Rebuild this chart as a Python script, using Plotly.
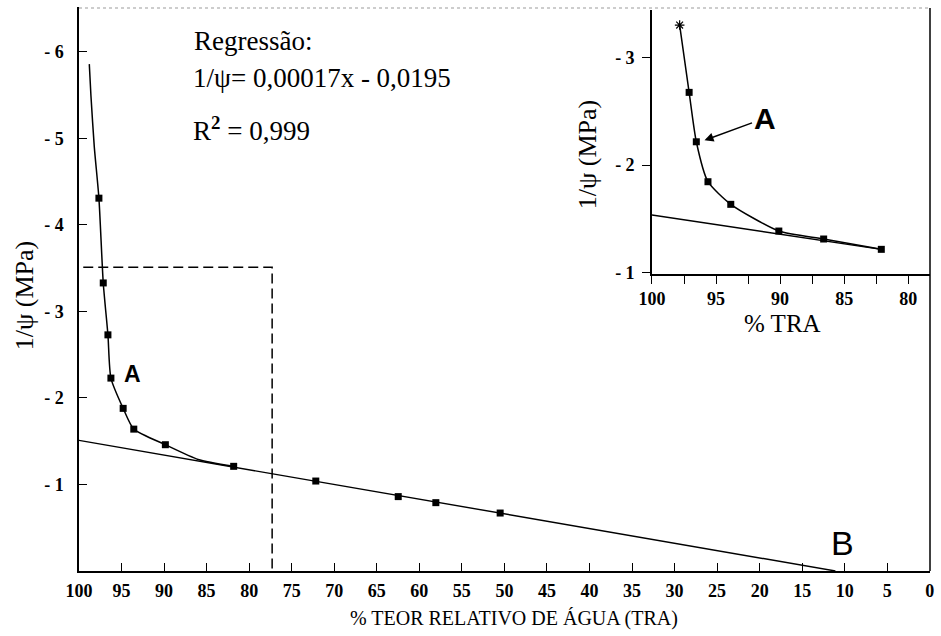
import plotly.graph_objects as go

# ---------------- data ----------------
# main chart: curve (hand-drawn fit through the measurements)
curve_tra = [98.79, 98.6, 98.2, 97.66, 97.15, 96.6, 96.25, 94.81, 93.56, 89.85, 86.0, 81.82]
curve_psi = [5.86, 5.5, 4.9, 4.31, 3.33, 2.73, 2.23, 1.88, 1.64, 1.46, 1.29, 1.21]
# main chart: measured points
pts_tra = [97.66, 97.15, 96.6, 96.25, 94.81, 93.56, 89.85, 81.82, 72.17, 62.48, 58.06, 50.5]
pts_psi = [4.31, 3.33, 2.73, 2.23, 1.88, 1.64, 1.46, 1.21, 1.04, 0.86, 0.79, 0.67]
# regression line (linear part)
reg_tra = [100, 11.1]
reg_psi = [1.51, 0.0]
# dashed zoom box
box_tra = [99.5, 77.3, 77.3]
box_psi = [3.51, 3.51, 0.0]

# inset
in_curve_tra = [97.84, 97.1, 96.54, 95.63, 93.85, 90.1, 86.6, 82.1]
in_curve_psi = [3.30, 2.675, 2.216, 1.845, 1.635, 1.387, 1.313, 1.217]
in_pts_tra = [97.1, 96.54, 95.63, 93.85, 90.1, 86.6, 82.1]
in_pts_psi = [2.675, 2.216, 1.845, 1.635, 1.387, 1.313, 1.217]
in_reg_tra = [100, 82.1]
in_reg_psi = [1.536, 1.217]
in_star_tra = [97.84]
in_star_psi = [3.30]

# ticks
main_xticks = list(range(0, 101, 5))
main_xtext = [str(v) for v in main_xticks]
main_yticks = [1, 2, 3, 4, 5, 6]
main_ytext = ["- " + str(v) for v in main_yticks]
in_xticks = [100, 95, 90, 85, 80]
in_xtext = [str(v) for v in in_xticks]
in_xminor = [97.5, 92.5, 87.5, 82.5]
in_yticks = [1, 2, 3]
in_ytext = ["- 1", "- 2", "- 3"]

# ---------------- figure ----------------
W, H = 941, 636
L, R, T, B = 79, 8, 7, 65
PW, PH = W - L - R, H - T - B


def px(x):
    return (x - L) / PW


def py(y):
    return (H - B - y) / PH


serif = "Liberation Serif, Times New Roman, Times, serif"
sans = "Liberation Sans, Arial, sans-serif"

fig = go.Figure()

# main
fig.add_trace(go.Scatter(x=reg_tra, y=reg_psi, mode="lines",
                         line=dict(color="black", width=1.4), xaxis="x", yaxis="y", hoverinfo="skip"))
fig.add_trace(go.Scatter(x=curve_tra, y=curve_psi, mode="lines",
                         line=dict(color="black", width=1.5, shape="spline", smoothing=0.6),
                         xaxis="x", yaxis="y", hoverinfo="skip"))
fig.add_trace(go.Scatter(x=box_tra, y=box_psi, mode="lines",
                         line=dict(color="black", width=1.5, dash="10px,5px"), xaxis="x", yaxis="y"))
fig.add_trace(go.Scatter(x=pts_tra, y=pts_psi, mode="markers",
                         marker=dict(symbol="square", size=7, color="black"), xaxis="x", yaxis="y"))

# inset
fig.add_trace(go.Scatter(x=in_reg_tra, y=in_reg_psi, mode="lines",
                         line=dict(color="black", width=1.4), xaxis="x2", yaxis="y2"))
fig.add_trace(go.Scatter(x=in_curve_tra, y=in_curve_psi, mode="lines",
                         line=dict(color="black", width=1.5, shape="spline", smoothing=0.6),
                         xaxis="x2", yaxis="y2"))
fig.add_trace(go.Scatter(x=in_pts_tra, y=in_pts_psi, mode="markers",
                         marker=dict(symbol="square", size=7, color="black"), xaxis="x2", yaxis="y2"))
fig.add_trace(go.Scatter(x=in_star_tra, y=in_star_psi, mode="markers",
                         marker=dict(symbol="asterisk-open", size=8, color="black",
                                     line=dict(width=1.2, color="black")), xaxis="x2", yaxis="y2"))

tickfont = dict(family=serif, size=18, color="black", weight="bold")

fig.update_layout(
    width=W, height=H,
    margin=dict(l=L, r=R, t=T, b=B, pad=0),
    paper_bgcolor="white", plot_bgcolor="white",
    showlegend=False,
    xaxis=dict(domain=[0, 1], range=[100, -0.02], tickvals=main_xticks, ticktext=main_xtext,
               ticks="inside", ticklen=8, tickwidth=1.3, tickcolor="black",
               showline=True, linecolor="black", linewidth=1.5, mirror=False,
               showgrid=False, zeroline=False, tickfont=tickfont, ticklabelstandoff=3),
    yaxis=dict(domain=[0, 1], range=[0, 6.52], tickvals=main_yticks, ticktext=main_ytext,
               ticks="inside", ticklen=8, tickwidth=1.3, tickcolor="black",
               showline=True, linecolor="black", linewidth=1.5,
               showgrid=False, zeroline=False, tickfont=tickfont, ticklabelstandoff=10),
    xaxis2=dict(domain=[px(654), 1], range=[100, 78.3], anchor="y2",
                tickvals=in_xticks, ticktext=in_xtext,
                ticks="outside", ticklen=8, tickwidth=1.3, tickcolor="black",
                minor=dict(tickvals=in_xminor, ticks="outside", ticklen=8, tickwidth=1.3,
                           tickcolor="black", showgrid=False),
                showline=True, linecolor="black", linewidth=1.5,
                showgrid=False, zeroline=False, tickfont=tickfont, ticklabelstandoff=0),
    yaxis2=dict(domain=[py(274), py(10)], range=[0.988, 3.44], anchor="x2",
                tickvals=in_yticks, ticktext=in_ytext,
                ticks="outside", ticklen=8, tickwidth=1.3, tickcolor="black",
                showline=True, linecolor="black", linewidth=1.5,
                showgrid=False, zeroline=False, tickfont=tickfont, ticklabelstandoff=4),
)

# frame lines: right border (black) and faint top border
fig.add_shape(type="line", xref="paper", yref="paper", x0=1, x1=1, y0=0, y1=py(8),
              line=dict(color="black", width=1.5))
fig.add_shape(type="line", xref="paper", yref="paper", x0=0, x1=1, y0=py(8), y1=py(8),
              line=dict(color="#bdbdbd", width=1.5, dash="dot"))

annots = [
    dict(text="Regressão:", x=px(192), y=py(41), font=dict(family=serif, size=27, color="black"), xanchor="left"),
    dict(text="1/ψ= 0,00017x - 0,0195", x=px(191), y=py(78), font=dict(family=serif, size=27, color="black"), xanchor="left"),
    dict(text="R<sup><b>2</b></sup> = 0,999", x=px(191), y=py(129), font=dict(family=serif, size=27, color="black"), xanchor="left"),
    dict(text="A", x=px(133), y=py(374), font=dict(family=sans, size=23, color="black", weight="bold"), xanchor="center"),
    dict(text="B", x=px(845), y=py(543), font=dict(family=sans, size=34, color="black"), xanchor="center"),
    dict(text="% TEOR RELATIVO DE ÁGUA (TRA)", x=px(516), y=py(618), font=dict(family=serif, size=20, color="black"), xanchor="center"),
    dict(text="1/ψ (MPa)", x=px(24), y=py(296), textangle=-90, font=dict(family=serif, size=26, color="black"), xanchor="center"),
    dict(text="1/ψ (MPa)", x=px(589), y=py(155), textangle=-90, font=dict(family=serif, size=26, color="black"), xanchor="center"),
    dict(text="% TRA", x=px(785), y=py(323), font=dict(family=serif, size=25, color="black"), xanchor="center"),
]
for a in annots:
    fig.add_annotation(xref="paper", yref="paper", showarrow=False, yanchor="middle", **a)

# inset "A" with arrow to the curve
fig.add_annotation(xref="x2", yref="y2", x=95.9, y=2.23, text="A", showarrow=True,
                   ax=60, ay=-22, arrowhead=2, arrowsize=1.2, arrowwidth=1.5, arrowcolor="black",
                   font=dict(family=sans, size=30, color="black", weight="bold"))

fig.write_html("out.html", config={"displayModeBar": False},
               post_script="document.body.style.margin='0px';document.body.style.overflow='hidden';")
